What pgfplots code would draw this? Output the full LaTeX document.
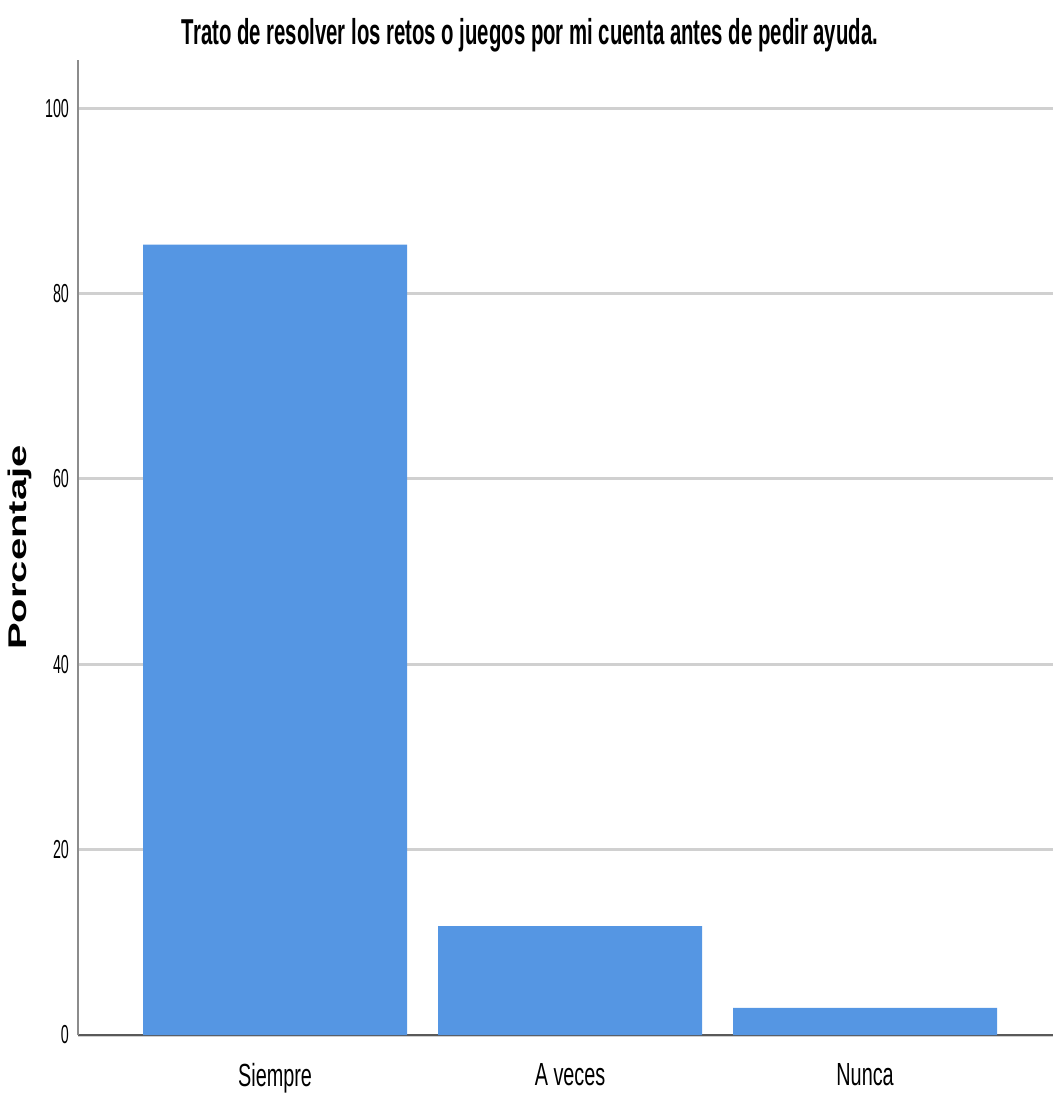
\documentclass[border=0pt]{standalone}
\usepackage{pgfplots}
\pgfplotsset{compat=1.18}
\usepackage{fontspec}
\setmainfont{Liberation Sans}
\newfontfamily\titlefont{Liberation Sans}[FakeStretch=0.565]
\newfontfamily\tickfont{Liberation Sans}[FakeStretch=0.55]
\newfontfamily\catfont{Liberation Sans}[FakeStretch=0.62]
\definecolor{barblue}{HTML}{5596E3}
\definecolor{gridgray}{HTML}{D0D0D0}
\begin{document}
\begin{tikzpicture}
\begin{axis}[
  scale only axis,
  width=487.5pt, height=487.5pt,
  xmin=-0.668, xmax=2.637,
  ymin=0, ymax=105.2,
  axis x line*=bottom, axis y line*=left,
  x axis line style={color=black!65, line width=1pt},
  y axis line style={color=black!45, line width=1pt},
  xtick={0,1,2},
  xticklabels={Siempre,A veces,Nunca},
  ytick={0,20,40,60,80,100},
  major tick length=0pt,
  ymajorgrids,
  grid style={gridgray, line width=1.5pt},
  /pgf/number format/assume math mode=true,
  yticklabel style={font=\tickfont\fontsize{13}{13}\selectfont, xshift=-1pt},
  xticklabel style={font=\catfont\fontsize{16}{16}\selectfont, yshift=-10.5pt},
  clip=false,
]
\addplot[ybar, bar width=0.895, fill=barblue, draw=none] coordinates {(0,85.29) (1,11.76) (2,2.94)};
\coordinate (ll) at (rel axis cs:0,0);
\coordinate (ur) at (rel axis cs:1,1);
\node[rotate=90, font=\bfseries\fontsize{20}{20}\selectfont] at ([xshift=-29pt]rel axis cs:0,0.5) {\scalebox{1}[0.64]{Porcentaje}};
\node[font=\titlefont\bfseries\fontsize{18}{18}\selectfont] at ([yshift=12.5pt]rel axis cs:0.4636,1) {Trato de resolver los retos o juegos por mi cuenta antes de pedir ayuda.};
\end{axis}
\pgfresetboundingbox
\path[use as bounding box] ([xshift=-39pt,yshift=-29pt]ll) rectangle ([yshift=30pt]ur);
\end{tikzpicture}
\end{document}
